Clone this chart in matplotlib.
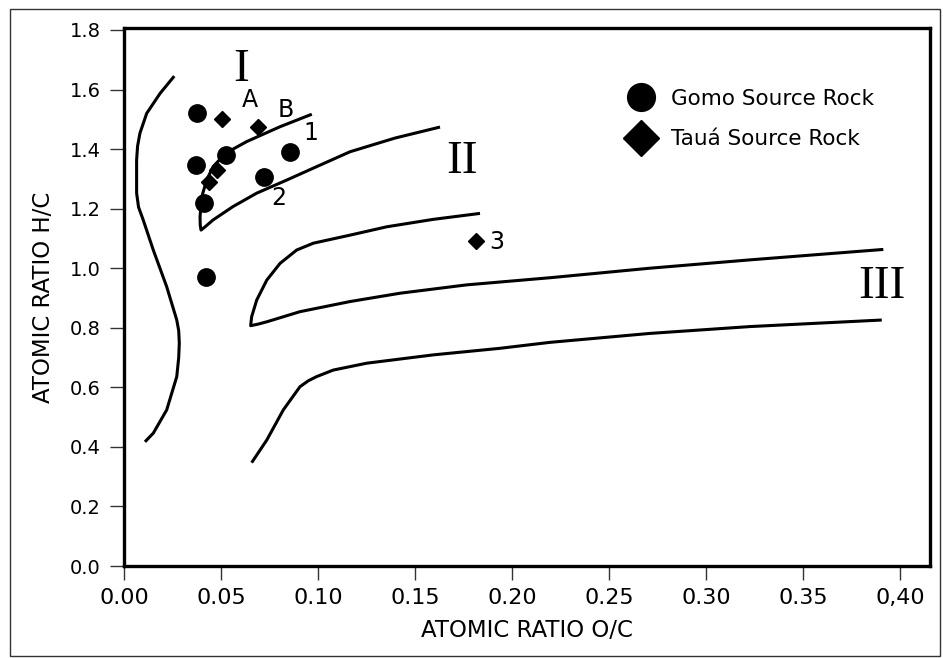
import numpy as np
import matplotlib.pyplot as plt
from matplotlib.lines import Line2D
from matplotlib.patches import Rectangle

# Gomo source rock samples (O/C, H/C)
gomo_oc = [0.0376, 0.0371, 0.0526, 0.0856, 0.0722, 0.0412, 0.0423]
gomo_hc = [1.521, 1.347, 1.380, 1.390, 1.306, 1.219, 0.970]

# Taua source rock samples
taua_oc = [0.0504, 0.0692, 0.0481, 0.0440, 0.1814]
taua_hc = [1.501, 1.475, 1.330, 1.288, 1.091]

# evolution path curves
curve_left_x = [0.0259, 0.0186, 0.0117, 0.0082, 0.0070, 0.0065, 0.0065, 0.0075, 0.0099, 0.0151,
                0.0220, 0.0272, 0.0282, 0.0285, 0.0282, 0.0272, 0.0220, 0.0151, 0.0108]
curve_left_y = [1.645, 1.587, 1.520, 1.453, 1.410, 1.363, 1.252, 1.205, 1.162, 1.061,
                0.938, 0.826, 0.790, 0.748, 0.700, 0.636, 0.524, 0.446, 0.417]

curve_hook1_x = [0.0968, 0.0804, 0.0632, 0.0526, 0.0459, 0.0426, 0.0401, 0.0392, 0.0393, 0.0397,
                 0.0420, 0.0459, 0.0562, 0.0684, 0.0839, 0.0993, 0.1165, 0.1397, 0.1629]
curve_hook1_y = [1.517, 1.475, 1.425, 1.387, 1.341, 1.296, 1.240, 1.173, 1.145, 1.128,
                 1.140, 1.162, 1.207, 1.252, 1.296, 1.341, 1.391, 1.437, 1.474]

curve_hook2_x = [0.1835, 0.1594, 0.1354, 0.1165, 0.0976, 0.0890, 0.0804, 0.0736, 0.0684,
                 0.0658, 0.0655, 0.0653, 0.0690, 0.0736, 0.0907, 0.1165, 0.1423, 0.1766, 0.2196,
                 0.2711, 0.3227, 0.3914]
curve_hook2_y = [1.184, 1.164, 1.139, 1.111, 1.084, 1.061, 1.016, 0.960, 0.893,
                 0.837, 0.820, 0.807, 0.812, 0.820, 0.854, 0.888, 0.916, 0.944, 0.968,
                 1.000, 1.028, 1.063]

curve_low_x = [0.0658, 0.0736, 0.0821, 0.0907, 0.0950, 0.0993, 0.1079, 0.1251, 0.1595,
               0.1938, 0.2196, 0.2711, 0.3227, 0.3906]
curve_low_y = [0.347, 0.423, 0.524, 0.602, 0.622, 0.636, 0.658, 0.681, 0.709,
               0.731, 0.751, 0.781, 0.804, 0.826]

xticks = [0.00, 0.05, 0.10, 0.15, 0.20, 0.25, 0.30, 0.35, 0.40]
xtick_labels = ["0.00", "0.05", "0.10", "0.15", "0.20", "0.25", "0.30", "0.35", "0,40"]
yticks = [0.0, 0.2, 0.4, 0.6, 0.8, 1.0, 1.2, 1.4, 1.6, 1.8]
ytick_labels = ["0.0", "0.2", "0.4", "0.6", "0.8", "1.0", "1.2", "1.4", "1.6", "1.8"]

plt.rcParams['font.family'] = ['DejaVu Sans']

fig = plt.figure(figsize=(9.43, 6.58), dpi=100)
ax = fig.add_axes([124/943, 1-566/658, 806/943, 538/658])

lw = 2.2
for cx, cy in [(curve_left_x, curve_left_y), (curve_hook1_x, curve_hook1_y),
               (curve_hook2_x, curve_hook2_y), (curve_low_x, curve_low_y)]:
    ax.plot(cx, cy, color='k', lw=lw, solid_capstyle='butt', solid_joinstyle='round')

ax.plot(gomo_oc, gomo_hc, 'o', color='k', ms=12.5, ls='none')
ax.plot(taua_oc, taua_hc, 'D', color='k', ms=8.5, ls='none')

# kerogen type labels
serif = dict(family='Liberation Serif', fontsize=34, ha='center', va='center')
ax.text(0.0603, 1.666, 'I', **serif)
ax.text(0.1742, 1.357, 'II', **serif)
ax.text(0.3907, 0.937, 'III', **serif)

lab = dict(fontsize=17, ha='center', va='center')
ax.text(0.065, 1.565, 'A', **lab)
ax.text(0.0835, 1.531, 'B', **lab)
ax.text(0.0964, 1.454, '1', **lab)
ax.text(0.0799, 1.236, '2', **lab)
ax.text(0.1923, 1.088, '3', **lab)

handles = [Line2D([], [], marker='o', color='k', ls='none', ms=20),
           Line2D([], [], marker='D', color='k', ls='none', ms=18)]
ax.legend(handles, ['Gomo Source Rock', 'Tauá Source Rock'], loc='upper left',
          bbox_to_anchor=(0.606, 0.907), frameon=False, fontsize=15.5,
          handletextpad=0.5, labelspacing=0.95, borderpad=0, handlelength=1.7)

ax.set_xlim(0, 806/1940)
ax.set_ylim(0, 538/297.8)
ax.set_xticks(xticks)
ax.set_xticklabels(xtick_labels, fontsize=16)
ax.set_yticks(yticks)
ax.set_yticklabels(ytick_labels, fontsize=14)
ax.tick_params(direction='out', length=10, width=1, color='#333333')
ax.tick_params(axis='x', pad=6)
ax.tick_params(axis='y', pad=7)
for s in ax.spines.values():
    s.set_linewidth(2.4)

ax.set_xlabel('ATOMIC RATIO O/C', fontsize=16.5, labelpad=8)
ax.set_ylabel('ATOMIC RATIO H/C', fontsize=16.5, labelpad=10)

# outer border of the figure
fig.patches.append(Rectangle((10/943, 2/658), 930/943, 647/658, transform=fig.transFigure,
                             fill=False, lw=1, ec='#333333'))

fig.savefig('out.png', dpi=100)
